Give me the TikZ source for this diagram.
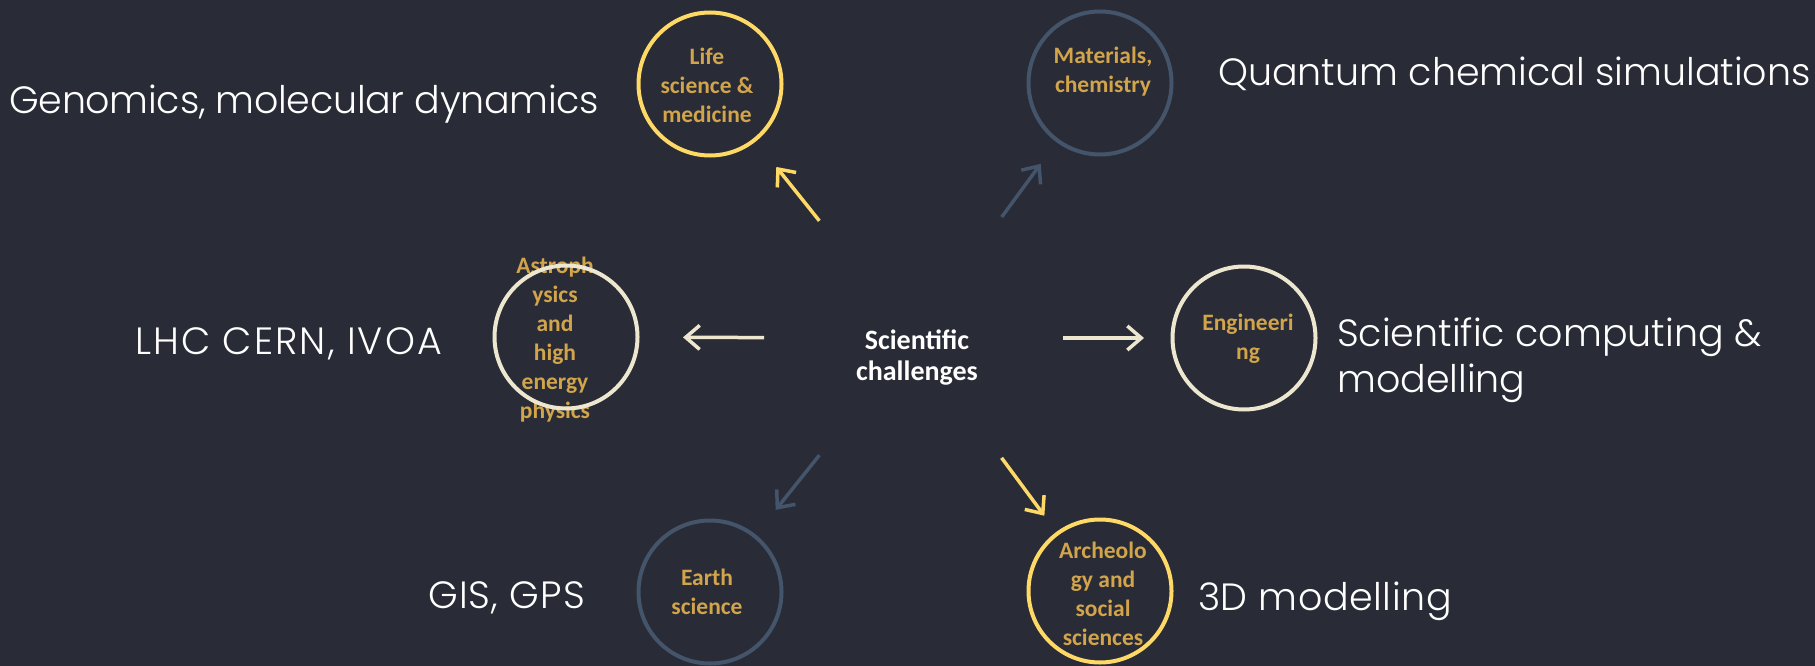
\documentclass[tikz,border=0pt]{standalone}
\usepackage{fontspec}
\setmainfont{Poppins}[UprightFont=* Light]
\newfontfamily\carlito{Carlito}
\usetikzlibrary{arrows.meta,calc}
\definecolor{bg}{HTML}{292C36}
\definecolor{yel}{HTML}{FFD966}
\definecolor{slate}{HTML}{44546A}
\definecolor{cream}{HTML}{EEE7D0}
\definecolor{gold}{HTML}{D2A44B}
\begin{document}
\begin{tikzpicture}[x=1pt,y=-1pt,
  ring/.style={circle, draw, line width=4pt, minimum size=143pt, inner sep=0pt},
  lab/.style={font=\carlito\bfseries\fontsize{23.5}{29}\selectfont, text=gold, align=center, inner sep=0pt},
  outer/.style={font=\fontsize{38}{46}\selectfont, text=white, anchor=base west, inner sep=0pt, align=left},
  hubtext/.style={font=\carlito\bfseries\fontsize{28}{31}\selectfont, text=white, align=center, inner sep=0pt},
  arr/.style={line width=3.5pt, -{Straight Barb[length=14pt,width=24pt]}}
]
\fill[bg] (0,0) rectangle (1815,666);
\useasboundingbox (0,0) rectangle (1815,666);

% labels (under the rings)
\node[lab] (lifetxt) at (707,85) {Life\\science \&\\medicine};
\node[lab] (mattxt) at (1103,72) {Materials,\\chemistry};
\node[lab] (astrotxt) at (555,340) {Astroph\\ysics\\and\\high\\energy\\physics};
\node[lab] (engtxt) at (1248,339) {Engineeri\\ng};
\node[lab] (earthtxt) at (707,592) {Earth\\science};
\node[lab] (archtxt) at (1103,594) {Archeolo\\gy and\\social\\sciences};

% rings
\node[ring, draw=yel] (life) at (710,84) {};
\node[ring, draw=slate] (mat) at (1100,83) {};
\node[ring, draw=cream] (astro) at (566,337) {};
\node[ring, draw=cream] (eng) at (1244,338) {};
\node[ring, draw=slate] (earth) at (710,592) {};
\node[ring, draw=yel] (arch) at (1100,591) {};

% hub
\coordinate (hub) at (913,338);
\node[hubtext] (center) at (917,358) {Scientific\\challenges};

% arrows
\draw[arr, yel]   ($(hub)!150pt!(life.center)$)  -- ($(hub)!219pt!(life.center)$);
\draw[arr, slate] ($(hub)!150pt!(mat.center)$)   -- ($(hub)!216pt!(mat.center)$);
\draw[arr, cream] ($(hub)!149pt!(astro.center)$) -- ($(hub)!230pt!(astro.center)$);
\draw[arr, cream] ($(hub)!150pt!(eng.center)$)   -- ($(hub)!231pt!(eng.center)$);
\draw[arr, slate] ($(hub)!150pt!(earth.center)$) -- ($(hub)!220pt!(earth.center)$);
\draw[arr, yel]   ($(hub)!149pt!(arch.center)$)  -- ($(hub)!221pt!(arch.center)$);

% outer texts
\node[outer] (genom) at (9,114) {\addfontfeature{LetterSpace=-0.7}Genomics, molecular dynamics};
\node[outer] (quant) at (1218,86) {Quantum chemical simulations};
\node[outer] (scicomp) at (1337,392) {Scientific computing \&\\modelling};
\node[outer] (lhc) at (135,354) {\addfontfeature{LetterSpace=5.5}LHC CERN, IVOA};
\node[outer] (gis) at (428,608) {\addfontfeature{LetterSpace=3}GIS, GPS};
\node[outer] (threed) at (1198,610) {\addfontfeature{LetterSpace=1.5}3D modelling};
\end{tikzpicture}
\end{document}
